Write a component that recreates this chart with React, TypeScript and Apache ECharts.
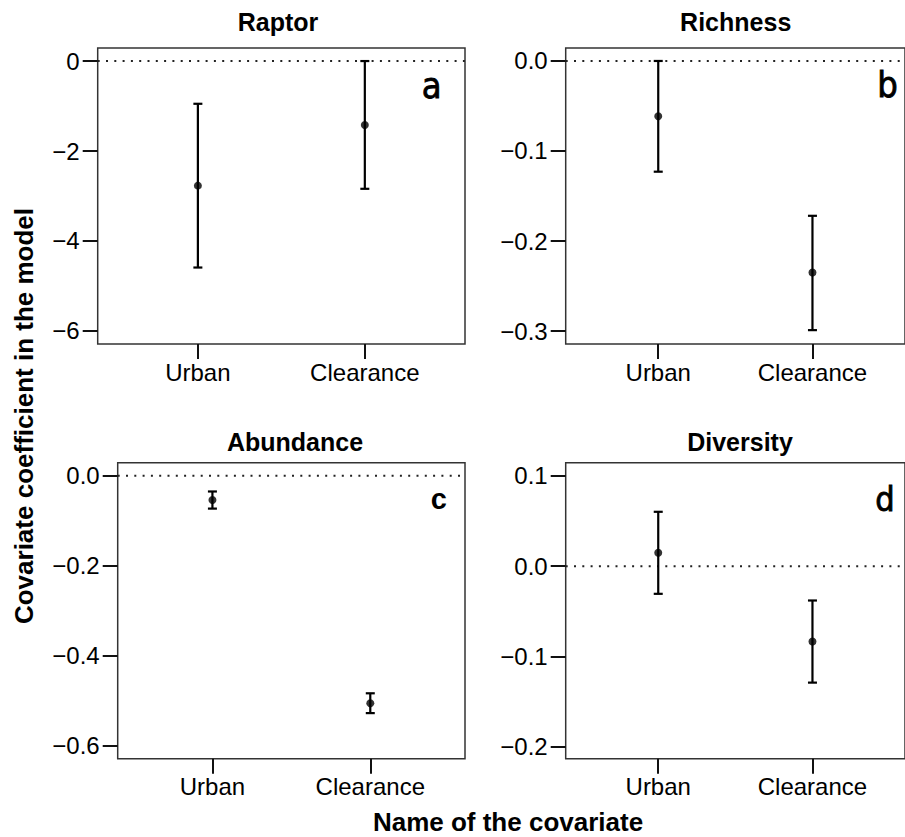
import React, { useEffect, useRef } from "react";
import * as echarts from "echarts";

const categories = ["Urban", "Clearance"];
const panelTitles = ["Raptor", "Richness", "Abundance", "Diversity"];
const panelLetters = ["a", "b", "c", "d"];

const raptorMean = [-2.77, -1.42];
const raptorLow = [-4.59, -2.84];
const raptorHigh = [-0.95, 0.0];

const richnessMean = [-0.0615, -0.235];
const richnessLow = [-0.123, -0.299];
const richnessHigh = [0.0, -0.172];

const abundanceMean = [-0.054, -0.505];
const abundanceLow = [-0.073, -0.527];
const abundanceHigh = [-0.035, -0.483];

const diversityMean = [0.015, -0.0835];
const diversityLow = [-0.0306, -0.129];
const diversityHigh = [0.0603, -0.038];

const raptorTicks = [-6, -4, -2, 0];
const richnessTicks = [-0.3, -0.2, -0.1, 0];
const abundanceTicks = [-0.6, -0.4, -0.2, 0];
const diversityTicks = [-0.2, -0.1, 0, 0.1];

const yRanges = [
  [-6.29, 0.29],
  [-0.3144, 0.0144],
  [-0.6282, 0.0289],
  [-0.2133, 0.1147],
];
const tickDecimals = [0, 1, 1, 1];

const FONT = "'Liberation Sans', Arial, Helvetica, sans-serif";
const NARROW = "'Liberation Sans Narrow', 'Arial Narrow', 'DejaVu Sans Condensed', Arial, sans-serif";

export default function App() {
  const ref = useRef<HTMLDivElement>(null);

  useEffect(() => {
    if (!ref.current) return;
    const chart = echarts.init(ref.current, undefined, { renderer: "svg" });

    const means = [raptorMean, richnessMean, abundanceMean, diversityMean];
    const lows = [raptorLow, richnessLow, abundanceLow, diversityLow];
    const highs = [raptorHigh, richnessHigh, abundanceHigh, diversityHigh];
    const ticks = [raptorTicks, richnessTicks, abundanceTicks, diversityTicks];

    const grids = [
      { left: 97.7, top: 48, width: 367.3, height: 296 },
      { left: 565.7, top: 48, width: 348.3, height: 296 },
      { left: 117.7, top: 462.7, width: 347.3, height: 296 },
      { left: 565.7, top: 462.7, width: 348.3, height: 296 },
    ].map((g) => ({
      ...g,
      show: true,
      borderColor: "#333",
      borderWidth: 1.5,
      backgroundColor: "transparent",
    }));

    const xPos = categories.map((_, i) => i + 1);

    const xAxes = grids.map((_, i) => ({
      gridIndex: i,
      type: "value",
      position: "bottom",
      min: 0.4,
      max: 2.6,
      axisLine: { show: false, onZero: false },
      splitLine: { show: false },
      axisTick: {
        show: true,
        length: 15,
        customValues: xPos,
        lineStyle: { color: "#111", width: 2 },
      },
      axisLabel: {
        customValues: xPos,
        formatter: (v: number) => categories[Math.round(v) - 1] ?? "",
        fontSize: 24,
        color: "#000",
        margin: 16,
        fontFamily: FONT,
      },
    }));

    const yAxes = grids.map((_, i) => ({
      gridIndex: i,
      type: "value",
      position: "left",
      min: yRanges[i][0],
      max: yRanges[i][1],
      axisLine: { show: false, onZero: false },
      splitLine: { show: false },
      axisTick: {
        show: true,
        length: 15,
        customValues: ticks[i],
        lineStyle: { color: "#111", width: 2 },
      },
      axisLabel: {
        customValues: ticks[i],
        formatter: (v: number) => {
          const s = Math.abs(v) < 1e-9 ? (0).toFixed(tickDecimals[i]) : v.toFixed(tickDecimals[i]);
          return s.replace("-", "\u2212");
        },
        fontSize: 24,
        color: "#000",
        margin: 18,
        fontFamily: FONT,
      },
    }));

    const series: any[] = [];
    for (let i = 0; i < 4; i++) {
      series.push({
        type: "line",
        xAxisIndex: i,
        yAxisIndex: i,
        data: [
          [0.4, 0],
          [2.6, 0],
        ],
        symbol: "none",
        silent: true,
        lineStyle: { type: [2, 6.3], width: 2, color: "#222" },
        z: 1,
      });
      series.push({
        type: "custom",
        xAxisIndex: i,
        yAxisIndex: i,
        data: xPos.map((x, k) => [x, lows[i][k], highs[i][k]]),
        encode: { x: 0, y: [1, 2] },
        renderItem: (params: any, api: any) => {
          const x = api.value(0);
          const pLo = api.coord([x, api.value(1)]);
          const pHi = api.coord([x, api.value(2)]);
          const cw = 4.5;
          const style = { stroke: "#000", lineWidth: 2.2 };
          return {
            type: "group",
            children: [
              { type: "line", shape: { x1: pLo[0], y1: pLo[1], x2: pHi[0], y2: pHi[1] }, style },
              { type: "line", shape: { x1: pLo[0] - cw, y1: pLo[1], x2: pLo[0] + cw, y2: pLo[1] }, style },
              { type: "line", shape: { x1: pHi[0] - cw, y1: pHi[1], x2: pHi[0] + cw, y2: pHi[1] }, style },
            ],
          };
        },
        z: 2,
      });
      series.push({
        type: "scatter",
        xAxisIndex: i,
        yAxisIndex: i,
        data: xPos.map((x, k) => [x, means[i][k]]),
        symbol: "circle",
        symbolSize: 8,
        itemStyle: { color: "#000" },
        z: 3,
      });
    }

    const titlePos = [
      [278, 22],
      [735.7, 22],
      [295, 442],
      [740, 442],
    ];
    const letterSpecs = [
      { x: 431.7, y: 85.7, size: 36, weight: "500", family: NARROW },
      { x: 887.5, y: 84.1, size: 36, weight: "500", family: NARROW },
      { x: 438.8, y: 499.2, size: 29, weight: "bold", family: FONT },
      { x: 885, y: 498.8, size: 34, weight: "500", family: NARROW },
    ];

    const graphics: any[] = [];
    panelTitles.forEach((t, i) => {
      graphics.push({
        type: "text",
        x: titlePos[i][0],
        y: titlePos[i][1],
        style: {
          text: t,
          fontSize: 25,
          fontWeight: "bold",
          fontFamily: FONT,
          fill: "#000",
          align: "center",
          verticalAlign: "middle",
        },
      });
    });
    panelLetters.forEach((l, i) => {
      const s = letterSpecs[i];
      graphics.push({
        type: "text",
        x: s.x,
        y: s.y,
        style: {
          text: l,
          fontSize: s.size,
          fontWeight: s.weight,
          fontFamily: s.family,
          fill: "#000",
          stroke: "#000",
          lineWidth: s.weight === "bold" ? 0 : 0.8,
          align: "center",
          verticalAlign: "middle",
        },
      });
    });
    graphics.push({
      type: "text",
      x: 24,
      y: 416,
      rotation: Math.PI / 2,
      style: {
        text: "Covariate coefficient in the model",
        fontSize: 26,
        fontWeight: "bold",
        fontFamily: FONT,
        fill: "#000",
        align: "center",
        verticalAlign: "middle",
      },
    });
    graphics.push({
      type: "text",
      x: 508,
      y: 822,
      style: {
        text: "Name of the covariate",
        fontSize: 26,
        fontWeight: "bold",
        fontFamily: FONT,
        fill: "#000",
        align: "center",
        verticalAlign: "middle",
      },
    });

    chart.setOption({
      animation: false,
      backgroundColor: "#fff",
      grid: grids,
      xAxis: xAxes,
      yAxis: yAxes,
      series,
      graphic: graphics,
    });

    return () => chart.dispose();
  }, []);

  return (
    <div
      ref={ref}
      style={{ position: "fixed", left: 0, top: 0, width: 905, height: 837 }}
    />
  );
}
